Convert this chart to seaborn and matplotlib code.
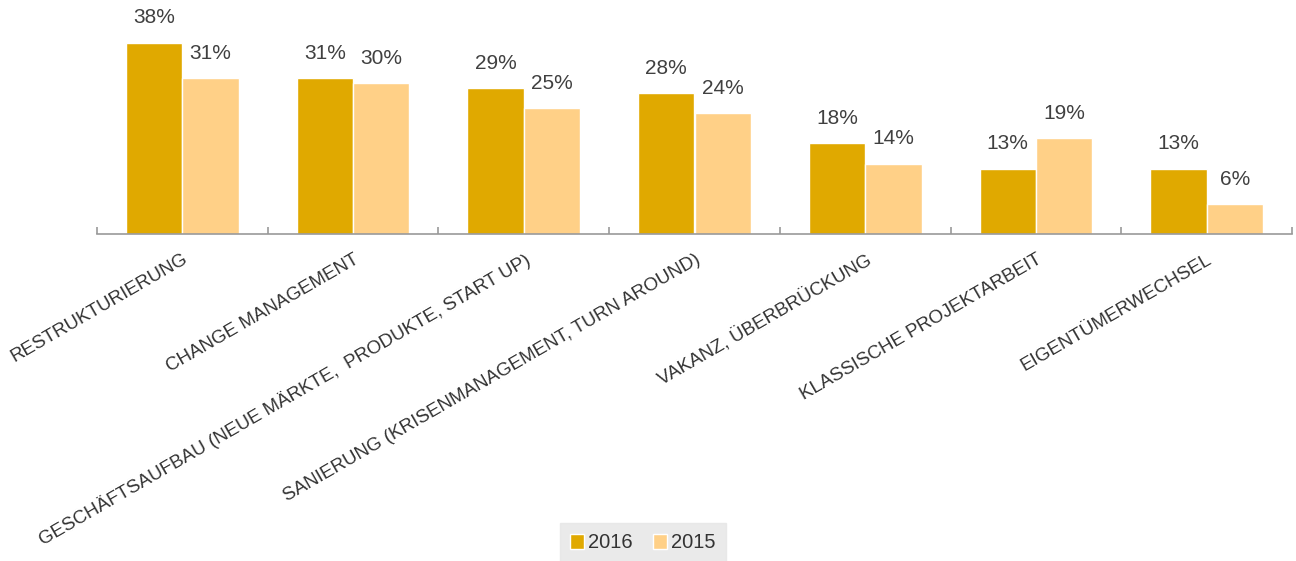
import matplotlib
matplotlib.use("Agg")
import matplotlib.pyplot as plt
import seaborn as sns
import pandas as pd
from matplotlib.patches import Patch

categories = [
    "RESTRUKTURIERUNG",
    "CHANGE MANAGEMENT",
    "GESCHÄFTSAUFBAU (NEUE MÄRKTE,  PRODUKTE, START UP)",
    "SANIERUNG (KRISENMANAGEMENT, TURN AROUND)",
    "VAKANZ, ÜBERBRÜCKUNG",
    "KLASSISCHE PROJEKTARBEIT",
    "EIGENTÜMERWECHSEL",
]
values_2016 = [38, 31, 29, 28, 18, 13, 13]
values_2015 = [31, 30, 25, 24, 14, 19, 6]
series = ["2016", "2015"]
colors = ["#E0A900", "#FFD087"]

rows = []
for c, a, b in zip(categories, values_2016, values_2015):
    rows.append({"cat": c, "year": "2016", "val": a})
    rows.append({"cat": c, "year": "2015", "val": b})
df = pd.DataFrame(rows)

sns.set_style("white")
plt.rcParams["font.family"] = ["Liberation Sans", "DejaVu Sans"]

fig = plt.figure(figsize=(12.96, 5.61), dpi=100)
ax = fig.add_axes([97/1296, 1 - 234/561, (1292-97)/1296, 234/561])

sns.barplot(data=df, x="cat", y="val", hue="year", hue_order=series,
            palette=colors, width=0.66, ax=ax, edgecolor="white",
            linewidth=1, saturation=1, legend=False)

for cont in ax.containers:
    ax.bar_label(cont, labels=[f"{int(v)}%" for v in cont.datavalues],
                 padding=11, fontsize=15, color="#404040")

ax.set_ylim(0, 46.5)
ax.set_xlim(-0.5, 6.5)
ax.set_xlabel("")
ax.set_ylabel("")
ax.set_yticks([])
for s in ["top", "right", "left"]:
    ax.spines[s].set_visible(False)
ax.spines["bottom"].set_color("#999999")
ax.spines["bottom"].set_linewidth(1.2)

ax.set_xticks(range(len(categories)))
ax.set_xticklabels(categories, rotation=30, ha="right", rotation_mode="anchor",
                   fontsize=13.5, color="#333333")
ax.tick_params(axis="x", which="major", length=0, pad=12)
ax.set_xticks([i - 0.5 for i in range(len(categories) + 1)], minor=True)
ax.tick_params(axis="x", which="minor", bottom=True, direction="in", length=5,
               color="#999999", width=1.2)

handles = [Patch(facecolor=c, edgecolor="white", linewidth=1, label=s)
           for c, s in zip(colors, series)]
leg = fig.legend(handles=handles, loc="center", bbox_to_anchor=(643/1296, 1 - 543/561),
                 ncol=2, frameon=True, fontsize=14.5, handlelength=0.7, handleheight=0.7,
                 handletextpad=0.2, columnspacing=1.0, borderpad=0.5,
                 labelcolor="#333333", fancybox=False)
leg.get_frame().set_facecolor("#E5E5E5")
leg.get_frame().set_edgecolor("#E5E5E5")

fig.savefig("out.png", dpi=100)
